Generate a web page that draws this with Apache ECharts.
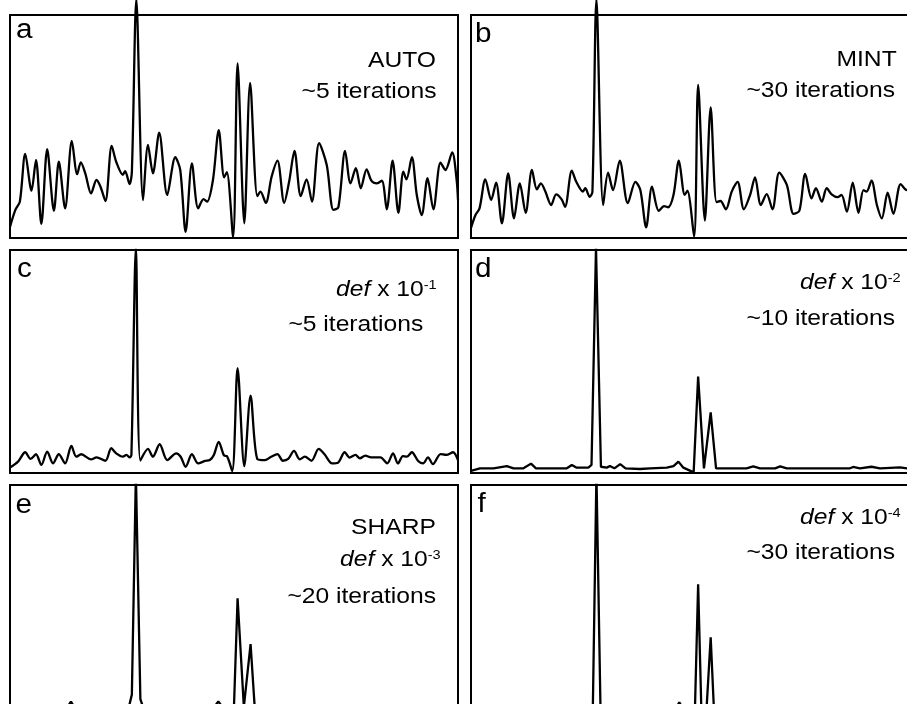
<!DOCTYPE html>
<html>
<head>
	<meta charset="utf-8">
	<title>Spectra panels</title>
	<script src="https://cdn.jsdelivr.net/npm/echarts@6/dist/echarts.min.js"></script>
	<style>
		html, body { margin: 0; padding: 0; background: #fff; }
		#chart { width: 907px; height: 704px; }
	</style>
</head>
<body>
<div id="chart"></div>
<script>
	// positions (0-100 across each panel) and intensities (0-100 = panel height)
	var posA = [0,1.2,2.2,3.4,4.8,5.8,7.0,8.3,9.8,10.9,12.3,13.8,15.0,15.8,16.8,18.1,19.3,20.2,21.3,22.7,23.7,25.2,25.7,26.7,27.2,28.2,29.7,30.8,31.9,33.3,35.1,36.9,38.0,39.2,40.6,42.0,43.2,44.0,45.3,46.6,47.8,48.4,49.8,50.8,52.3,53.6,55.2,55.9,57.1,58.4,59.7,61.2,62.3,63.5,64.9,66.2,67.4,69.0,70.7,72.2,73.3,74.8,76.0,77.2,78.3,79.6,80.7,81.9,83.0,84.1,85.4,86.7,87.8,88.5,89.7,90.8,91.9,93.2,94.5,96.1,97.2,98.7,99.7,100];
	var intA = [5,12.6,16.3,37.7,21.2,35.0,6.3,39.8,12.2,34.2,13.3,43.5,28.6,33.9,29.0,20.0,26.0,23.0,16.6,41.3,34.2,28.3,30.0,24.2,29.6,107,17.0,41.7,29.0,47.2,19.3,36.2,30.5,2.8,33.5,13.3,17.4,16.3,26.0,48.4,27.2,29.5,0.4,78.3,6.6,69.6,18.8,20.8,15.8,27.5,34.7,15.8,25.2,39.1,18.8,26.3,16.3,42.5,32.7,12.6,13.8,39.1,24.5,31.3,22.3,30.8,25.6,24.5,25.7,12.9,34.7,11.3,29.7,26.3,36.2,19.3,10.3,26.8,12.9,33.8,30.5,38.4,26.0,17.0];

	var posB = [0,1.0,1.9,3.2,4.5,5.6,6.9,8.3,9.6,10.9,12.2,13.6,14.7,15.6,16.6,17.9,19.0,20.2,21.0,22.5,23.5,25.0,25.5,26.5,27.1,28.0,29.5,30.6,31.7,33.2,35.0,36.7,37.8,39.1,40.4,41.9,43.1,44.0,45.2,46.4,47.7,48.3,49.8,50.7,52.2,53.5,54.8,55.7,56.9,58.2,59.5,60.9,62.3,63.4,64.7,66.0,67.3,68.8,70.5,72.0,73.3,74.6,76.0,77.0,78.3,79.4,80.5,81.8,82.7,83.9,85.2,86.5,87.6,88.3,89.4,90.6,91.7,93.0,94.3,95.9,97.2,98.7,99.7,100];
	var intB = [4.5,10.3,13.3,26.3,17.0,24.8,6.6,29.0,8.8,24.5,11.3,30.5,21.8,24.5,20.8,14.8,19.6,17.4,14.0,30.2,25.2,20.8,22.3,18.5,20.6,107,14.8,29.3,21.5,34.7,15.6,25.2,21.5,4.8,23.0,12.2,14.3,13.8,19.3,34.7,19.3,21.2,0.6,68.6,7.8,58.6,16.1,16.6,12.9,20.8,25.2,12.9,19.3,27.2,14.8,19.7,12.9,29.3,23.8,10.8,12.2,28.7,17.8,22.3,16.3,22.3,19.6,18.3,19.3,11.8,24.8,11.3,21.5,20.8,25.7,14.8,8.8,20.3,10.8,24.2,21.5,27,19,12];

	var posC = [0,1.8,3.4,4.6,5.8,7.0,8.3,9.6,10.9,12.3,13.7,14.8,15.9,18.1,19.3,21.3,22.6,23.7,25.2,26.0,26.7,27.1,28.1,29.1,30.8,31.9,33.4,35.1,37.1,38.1,39.2,40.6,42.0,43.5,44.6,45.5,46.6,47.8,48.4,49.6,50.8,52.3,53.7,55.2,56.9,58.3,59.7,60.9,62.1,63.4,64.7,65.8,67.3,68.9,70.2,71.9,73.2,74.7,75.8,77.1,78.1,79.3,80.6,82.7,84.2,85.5,86.6,87.7,88.6,89.7,91.1,92.2,93.3,94.4,96.1,97.4,98.9,100];
	var intC = [2.5,5.1,9.3,6.3,8.4,3.6,9.6,4.3,8.4,4.3,12.1,7.3,8.4,6.1,7.0,5.5,11.1,8.8,7.3,8.1,7.0,8.1,101,5.6,10.8,7.3,12.9,5.8,8.8,7.3,2.8,8.4,4.3,5.4,5.8,8.1,14.0,7.8,7.6,0.9,47.0,3.1,34.7,6.3,5.8,7.3,8.5,5.5,6.3,9.9,6.1,7.3,5.5,10.8,8.4,4.3,4.6,9.3,6.9,8.1,6.6,7.8,7.0,7.0,4.3,8.8,4.3,7.6,7.3,9.3,5.4,4.3,7.0,4.0,8.5,8.1,9.3,5.8];

	var posD = [0,2.0,5.0,8.0,9.5,11.7,13.4,14.5,21.4,22.5,23.6,26.2,26.9,27.9,29.0,30.3,31.0,32.0,33.3,34.5,37.7,40.0,43.7,45.2,46.3,47.4,49.7,50.7,52.0,53.5,54.7,61.5,63.0,64.5,67.9,69.0,70.5,84.6,85.3,86.8,89.4,91.3,95.8,97.3,100];
	var intD = [1.0,2.1,2.1,3.1,2.1,2.1,4.2,2.1,2.1,3.6,2.4,2.4,3.6,101,2.8,2.4,3.1,2.1,4.0,2.1,1.8,2.1,2.4,3.1,5.1,2.4,0.3,43.2,2.1,27.2,2.1,2.1,3.0,2.1,2.1,3.0,2.1,2.1,2.7,2.1,2.8,2.1,2.5,2.1,2.1];

	var posE = [0,13.0,13.6,14.2,26.6,27.2,28.1,29.1,29.6,45.8,46.5,47.2,50.0,50.8,52.2,53.7,54.6,100];
	var intE = [1.0,1.0,2.8,1.0,1.0,6.0,105,4.0,1.0,1.0,3.0,1.0,1.0,49.2,0.5,28.7,1.0,1.0];

	var posF = [0,27.2,28.0,28.9,45.9,46.5,47.1,50.0,50.7,51.4,52.6,53.5,54.2,100];
	var intF = [0.5,0.5,105,0.5,0.5,2.5,0.5,0.5,55.5,0.5,0.5,31.7,0.5,0.5];

	var panelPos = [posA, posB, posC, posD, posE, posF];
	var panelInt = [intA, intB, intC, intD, intE, intF];

	var grids = [
		{left: 10, top: 15}, {left: 471, top: 15},
		{left: 10, top: 250}, {left: 471, top: 250},
		{left: 10, top: 485}, {left: 471, top: 485}
	];
	var smoothing = [0.3, 0.3, 0.3, 0, 0, 0];
	var clipping = [false, false, true, true, true, true];

	var font = 'Liberation Sans, Arial, sans-serif';
	var chart = echarts.init(document.getElementById('chart'));

	function label(x, y, text, opts) {
		opts = opts || {};
		return {
			type: 'text', x: x, y: y, scaleX: opts.scale || 1.12, silent: true,
			style: {
				text: text, fill: '#000', fontFamily: font, fontSize: opts.size || 22,
				align: opts.align || 'right', textAlign: opts.align || 'right',
				verticalAlign: 'middle', textVerticalAlign: 'middle',
				rich: {
					i: {fontStyle: 'italic', fontSize: 22, fontFamily: font, fill: '#000'},
					s: {fontSize: 13, fontFamily: font, fill: '#000', verticalAlign: 'top'}
				}
			}
		};
	}
	function letter(x, y, text) {
		return label(x, y, text, {size: 27, align: 'left', scale: 1.1});
	}

	var graphic = [
		letter(16, 30.6, 'a'), letter(475, 34.9, 'b'),
		letter(17, 269.9, 'c'), letter(475, 269.9, 'd'),
		letter(15.5, 505.9, 'e'), letter(477.5, 504.3, 'f'),
		label(436, 61.2, 'AUTO'),
		label(436.5, 92.2, '~5 iterations'),
		label(896.7, 59.9, 'MINT'),
		label(895, 90.9, '~30 iterations'),
		label(436.7, 289.9, '{i|def} x 10{s|-1}'),
		label(423.3, 324.9, '~5 iterations'),
		label(900.7, 282.5, '{i|def} x 10{s|-2}'),
		label(895, 318.9, '~10 iterations'),
		label(436, 528.2, 'SHARP'),
		label(440.7, 559.9, '{i|def} x 10{s|-3}'),
		label(436, 596.5, '~20 iterations'),
		label(900.7, 517.5, '{i|def} x 10{s|-4}'),
		label(895, 553.2, '~30 iterations')
	];

	var option = {
		animation: false,
		backgroundColor: '#fff',
		grid: [],
		xAxis: [],
		yAxis: [],
		series: [],
		graphic: graphic
	};
	for (var i = 0; i < 6; i++) {
		option.grid.push({
			left: grids[i].left, top: grids[i].top, width: 448, height: 223,
			outerBoundsMode: 'none', containLabel: false,
			show: true, borderColor: '#000', borderWidth: 2, backgroundColor: 'transparent'
		});
		option.xAxis.push({type: 'value', gridIndex: i, min: 0, max: 100, show: false});
		option.yAxis.push({type: 'value', gridIndex: i, min: 0, max: 100, show: false});
		var pts = [];
		for (var j = 0; j < panelPos[i].length; j++) {
			pts.push([panelPos[i][j], panelInt[i][j]]);
		}
		option.series.push({
			type: 'line', xAxisIndex: i, yAxisIndex: i, data: pts,
			symbol: 'none', smooth: smoothing[i], clip: clipping[i],
			lineStyle: {color: '#000', width: 2.3}
		});
	}
	chart.setOption(option);
</script>
</body>
</html>
